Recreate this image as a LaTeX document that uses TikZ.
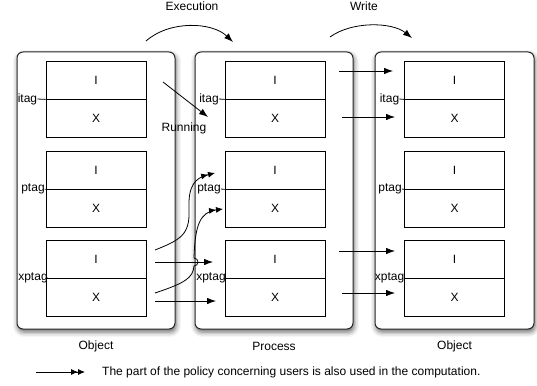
\documentclass[tikz,border=0pt]{standalone}
\usepackage{fontspec}
\setmainfont{Liberation Sans}
\usetikzlibrary{arrows.meta,shadows.blur}
\begin{document}
\begin{tikzpicture}[x=1pt,y=-1pt,
  every node/.style={font=\fontsize{12}{14}\selectfont},
  panel/.style={draw=black!85, line width=1pt, fill=white, rounded corners=6pt,
    minimum width=158pt, minimum height=277pt, inner sep=0pt,
    blur shadow={shadow xshift=1pt, shadow yshift=-3pt, shadow blur radius=5pt, shadow opacity=60}},
  half/.style={draw=black, line width=0.8pt, fill=white, minimum width=100pt, minimum height=38pt, inner sep=0pt},
  tag/.style={inner sep=0pt},
  lbl/.style={inner sep=0pt},
  arr/.style={line width=0.8pt, -{Latex[length=9pt,width=6.5pt]}},
  darr/.style={line width=0.8pt, -{Latex[length=7pt,width=6pt]Latex[length=7pt,width=6pt]}}
]
\useasboundingbox (0,0) rectangle (537,385);
% panels
\node[panel] (P1) at (96,190.5) {};
\node[panel] (P2) at (274,190.5) {};
\node[panel, minimum width=159pt] (P3) at (454.5,190.5) {};
% inner boxes
\foreach \p/\cx in {1/96,2/275,3/454.5}{
  \foreach \r/\cy in {a/80,b/170,c/259}{
    \node[half] (p\p\r I) at (\cx,\cy) {I};
    \node[half, anchor=north] (p\p\r X) at (p\p\r I.south) {X};
  }
}
% tags
\foreach \p/\xa/\xb/\xc in {1/27.5/33/33,2/209/209/211,3/389.5/390/389.5}{
  \node[tag] (t\p a) at (\xa,99) {itag};
  \node[tag] (t\p b) at (\xb,189) {ptag};
  \node[tag] (t\p c) at (\xc,278) {xptag};
  \draw[line width=0.8pt] (t\p a.east) -- (p\p aI.south west);
  \draw[line width=0.8pt] (t\p b.east) -- (p\p bI.south west);
  \draw[line width=0.8pt] (t\p c.east) -- (p\p cI.south west);
}
% captions
\node[lbl] (c1) at (96,346) {Object};
\node[lbl] (c2) at (274,346) {Process};
\node[lbl] (c3) at (454.5,346) {Object};
\node[lbl] (exec) at (192,6) {Execution};
\node[lbl] (write) at (364,6) {Write};
\node[lbl] (run) at (184,128) {Running};
% top curved arrows
\coordinate (e1) at (146,41); \coordinate (e2) at (233,42);
\draw[arr] (e1) .. controls (170,20) and (212,22) .. (e2);
\coordinate (w1) at (330,37); \coordinate (w2) at (412,38);
\draw[arr] (w1) .. controls (352,21) and (392,22) .. (w2);
% running
\coordinate (r1) at (163,82); \coordinate (r2) at (208,117);
\draw[arr] (r1) -- (r2);
% process -> object
\coordinate (a1) at (339,71); \coordinate (a2) at (393,71);
\draw[arr] (a1) -- (a2);
\coordinate (b1) at (342,117); \coordinate (b2) at (395,117);
\draw[arr] (b1) -- (b2);
\coordinate (c1s) at (339,251); \coordinate (c1e) at (395,251);
\draw[arr] (c1s) -- (c1e);
\coordinate (d1) at (342,293); \coordinate (d2) at (395,293);
\draw[arr] (d1) -- (d2);
% object -> process
\coordinate (f1) at (155,262); \coordinate (f2) at (213,262);
\draw[arr] (f1) -- (f2);
\coordinate (g1) at (155,301); \coordinate (g2) at (216,301);
\draw[arr] (g1) -- (g2);
% curvy double arrows
\coordinate (h1) at (155,250); \coordinate (h2) at (215,173);
\draw[darr] (h1) .. controls (180,240) and (190,235) .. (189,210) .. controls (188,185) and (195,178) .. (h2);
\coordinate (k1) at (155,293); \coordinate (k2) at (223,209);
\draw[darr] (k1) .. controls (185,283) and (193,278) .. (194,266) arc[start angle=-90, end angle=90, radius=4pt] .. controls (195,225) and (200,212) .. (k2);
% legend
\coordinate (l1) at (36,372); \coordinate (l2) at (85,372);
\draw[darr] (l1) -- (l2);
\node[lbl, anchor=west] (leg) at (102,372) {The part of the policy concerning users is also used in the computation.};
\end{tikzpicture}
\end{document}
